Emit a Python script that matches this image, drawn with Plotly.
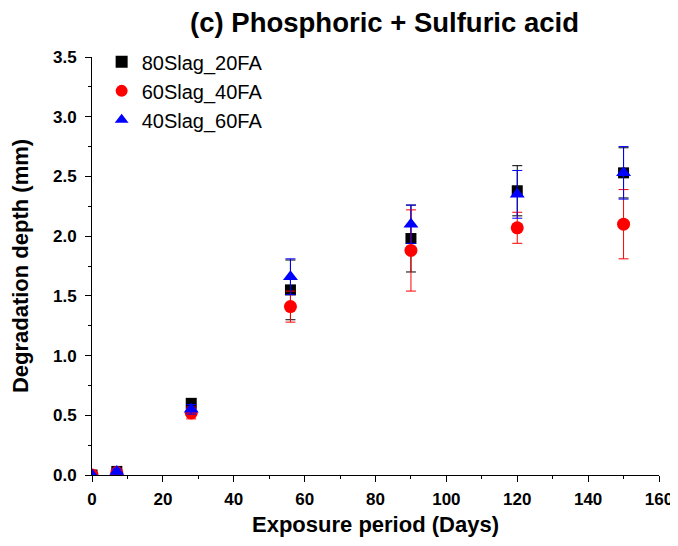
import plotly.graph_objects as go

days = [0, 7, 28, 56, 90, 120, 150]
slag80_fa20 = [0.0, 0.03, 0.60, 1.55, 1.98, 2.38, 2.53]
slag80_fa20_err = [0.0, 0.02, 0.04, 0.25, 0.28, 0.21, 0.21]
slag60_fa40 = [0.0, 0.02, 0.52, 1.41, 1.88, 2.07, 2.10]
slag60_fa40_err = [0.0, 0.02, 0.05, 0.13, 0.34, 0.13, 0.29]
slag40_fa60 = [0.0, 0.03, 0.55, 1.66, 2.10, 2.35, 2.53]
slag40_fa60_err = [0.0, 0.02, 0.04, 0.15, 0.16, 0.20, 0.22]

series = [
    ("80Slag_20FA", slag80_fa20, slag80_fa20_err, "black", "square", 11),
    ("60Slag_40FA", slag60_fa40, slag60_fa40_err, "red", "circle", 13),
    ("40Slag_60FA", slag40_fa60, slag40_fa60_err, "blue", "triangle-up", 13),
]

FONT = "Liberation Sans, Arial"

fig = go.Figure()
for name, vals, errs, color, sym, size in series:
    fig.add_trace(go.Scatter(
        x=days, y=vals, name=name, mode="markers",
        marker=dict(color=color, symbol=sym, size=size),
        error_y=dict(type="data", array=errs, visible=True, color=color,
                     thickness=1, width=5),
    ))

axis_common = dict(
    showline=True, linecolor="black", linewidth=1, mirror=False,
    ticks="outside", ticklen=6, tickwidth=1, tickcolor="black",
    showgrid=False, zeroline=False, automargin=False,
    tickfont=dict(family=FONT, size=17, color="black", weight="bold"),
)

fig.update_xaxes(
    range=[0, 160], dtick=20, tick0=0, ticklabelstandoff=3,
    minor=dict(ticks="outside", ticklen=3, dtick=10, tickcolor="black"),
    title=dict(text="<b>Exposure period (Days)</b>",
               font=dict(family=FONT, size=22, color="black"),
               standoff=8),
    **axis_common,
)
fig.update_yaxes(
    range=[0, 3.5], dtick=0.5, tick0=0, tickformat=".1f", ticklabelstandoff=5,
    minor=dict(ticks="outside", ticklen=3, dtick=0.25, tickcolor="black"),
    title=dict(text="<b>Degradation depth (mm)</b>",
               font=dict(family=FONT, size=22, color="black"),
               standoff=24),
    **axis_common,
)

# page body has an 8px default margin, so the figure is sized to fit inside the window
fig.update_layout(
    width=670, height=530,
    margin=dict(l=84, r=19, t=49, b=63),
    paper_bgcolor="white", plot_bgcolor="white",
    title=dict(text="<b>(c) Phosphoric + Sulfuric acid</b>",
               font=dict(family=FONT, size=27.5, color="black"),
               x=0.562, xanchor="center", y=0.972, yanchor="middle"),
    legend=dict(x=0.017, y=1.035, xanchor="left", yanchor="top",
                bgcolor="rgba(0,0,0,0)",
                font=dict(family=FONT, size=20, color="black"),
                itemsizing="constant", tracegroupgap=0),
    showlegend=True,
)

fig.write_html("out.html")
